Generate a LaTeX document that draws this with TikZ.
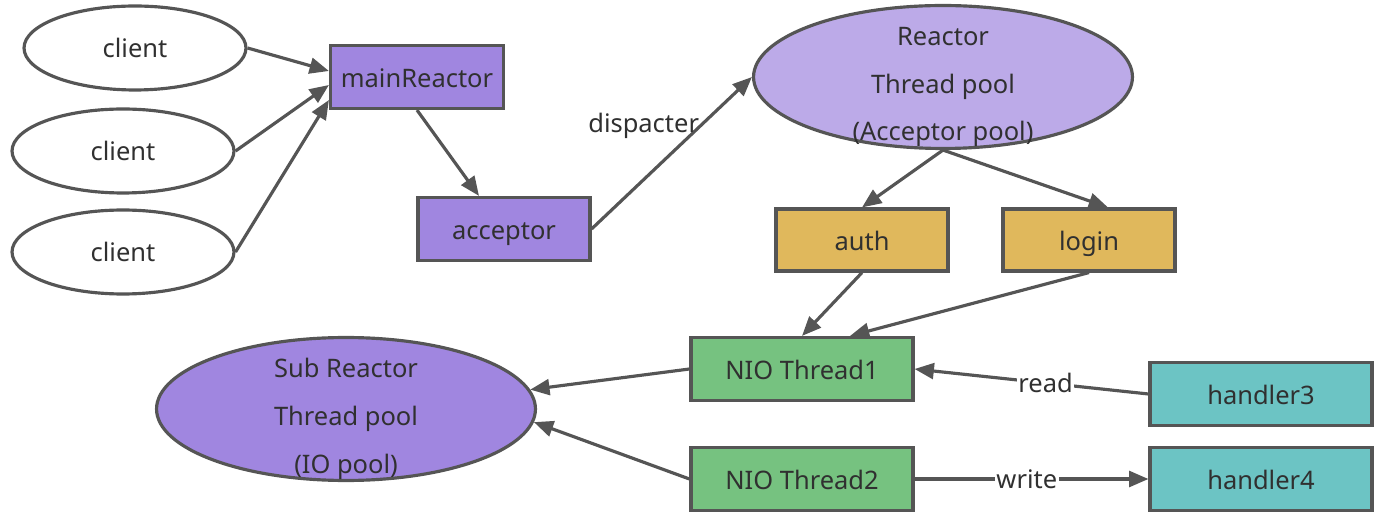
\documentclass[tikz,border=0pt]{standalone}
\usepackage{fontspec}
\setmainfont{Noto Sans}
\usepackage{xcolor}
\usetikzlibrary{shapes,arrows.meta,positioning,calc}
\definecolor{edgegray}{RGB}{85,85,85}
\definecolor{textgray}{RGB}{48,48,48}
\definecolor{mainpurple}{RGB}{160,134,224}
\definecolor{poolpurple}{RGB}{188,170,232}
\definecolor{taskgold}{RGB}{224,184,92}
\definecolor{niogreen}{RGB}{118,194,128}
\definecolor{handlerteal}{RGB}{108,196,196}

\begin{document}
\begin{tikzpicture}[
			x=0.02cm, y=-0.02cm,
			box/.style={draw=edgegray, line width=1.8pt, minimum width=3.44cm, minimum height=1.26cm, inner sep=0pt, text height=13pt, text depth=1.6pt, text=textgray, font=\fontsize{14.5}{17}\selectfont},
			widebox/.style={box, minimum width=4.44cm},
			client/.style={ellipse, draw=edgegray, line width=1.8pt, minimum width=4.44cm, minimum height=1.68cm, inner sep=0pt, text=textgray, font=\fontsize{14.5}{17}\selectfont},
			pool/.style={ellipse, draw=edgegray, line width=1.8pt, minimum width=7.58cm, minimum height=2.86cm, inner sep=0pt},
			poolText/.style={align=center, text=textgray, font=\fontsize{14.5}{27.3}\selectfont, yshift=-0.2cm},
			link/.style={draw=edgegray, line width=1.8pt, -{Triangle[length=11pt,width=9pt]}},
			tag/.style={fill=white, inner sep=1pt, text=textgray, font=\fontsize{14.5}{17}\selectfont}
			]
			\useasboundingbox (0,0) rectangle (1388,516);
			
			\node[client] (c1) at (135,48) {client};
			\node[client] (c2) at (123,151) {client};
			\node[client] (c3) at (123,252) {client};
			\node[box, fill=mainpurple, minimum width=3.46cm] (main) at (417,77) {mainReactor};
			\node[box, fill=mainpurple] (acc) at (504,229) {acceptor};
			\node[pool, fill=poolpurple, label={[poolText]center:Reactor\\Thread pool\\(Acceptor pool)}] (reactor) at (943,77) {};
			\node[box, fill=taskgold, minimum height=1.24cm] (auth) at (862,240) {auth};
			\node[box, fill=taskgold, minimum height=1.24cm] (login) at (1089,240) {login};
			\node[widebox, fill=niogreen] (nio1) at (802,369) {NIO Thread1};
			\node[widebox, fill=niogreen] (nio2) at (802,479) {NIO Thread2};
			\node[pool, fill=mainpurple, label={[poolText]center:Sub Reactor\\Thread pool\\(IO pool)}] (sub) at (346,409) {};
			\node[widebox, fill=handlerteal] (h3) at (1261,394) {handler3};
			\node[widebox, fill=handlerteal] (h4) at (1261,479) {handler4};
			
			\draw[link] (c1.east) -- ([yshift=0.12cm]main.west);
			\draw[link] (c2.east) -- ([yshift=-0.16cm]main.west);
			\draw[link] (c3.east) -- ([yshift=-0.46cm]main.west);
			\draw[link] (main.south) -- ([xshift=-0.5cm]acc.north);
			\draw[link] (acc.east) -- node[pos=0.68, left, inner sep=0pt, text=textgray, font=\fontsize{14.5}{17}\selectfont]{dispacter} (reactor.west);
			\draw[link] (reactor.south) -- (auth.north);
			\draw[link] (reactor.south) -- ([xshift=0.38cm]login.north);
			\draw[link] (auth.south) -- (nio1.north);
			\draw[link] (login.south) -- ([xshift=0.96cm]nio1.north);
			\draw[link] (nio1.west) -- (sub.6);
			\draw[link] (nio2.west) -- (sub.-4);
			\draw[link] (h3.west) -- node[tag, pos=0.44]{read} (nio1.east);
			\draw[link] (nio2.east) -- node[tag, pos=0.48]{write} (h4.west);
		\end{tikzpicture}
\end{document}
